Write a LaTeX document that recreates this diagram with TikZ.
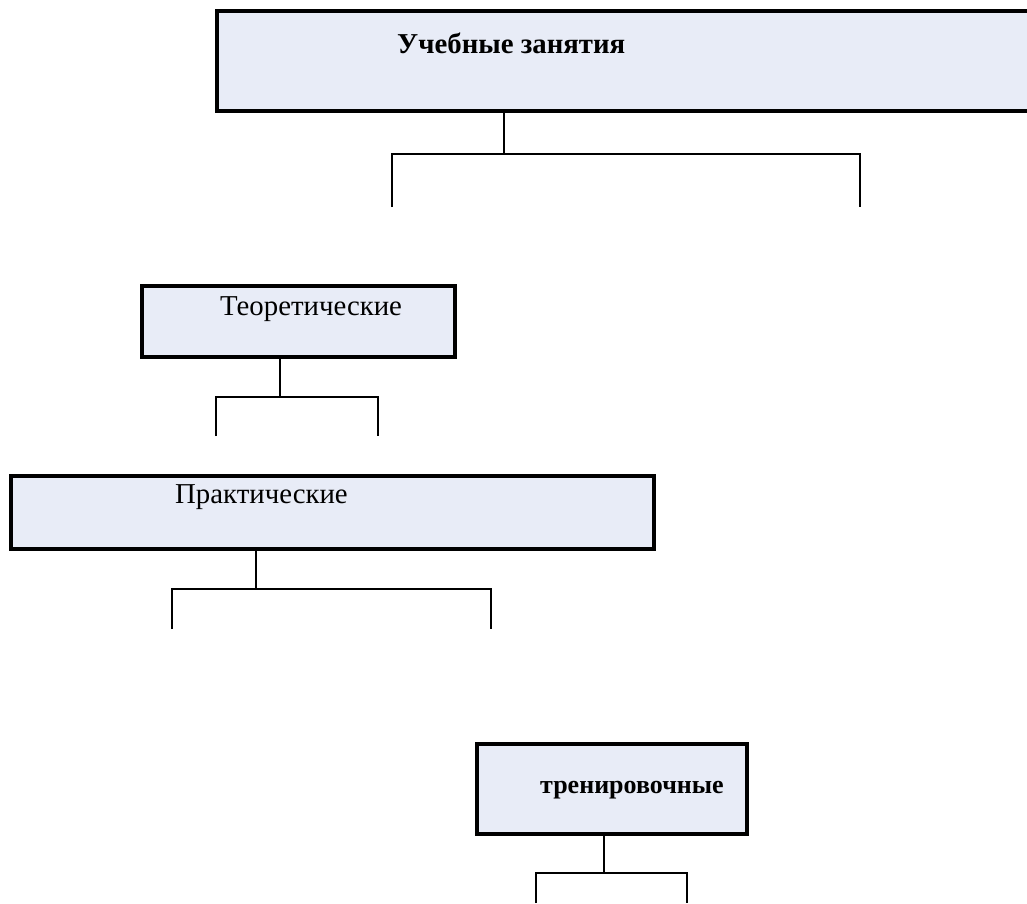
\documentclass[tikz,border=0pt]{standalone}
\usepackage{fontspec}
\setmainfont{Liberation Serif}
\usetikzlibrary{positioning}
\definecolor{boxfill}{HTML}{E8ECF7}

\tikzset{
  box/.style={draw,line width=3.5pt,fill=boxfill,rectangle,inner sep=0pt},
  lbl/.style={anchor=base west,inner sep=0pt,font=\fontsize{28.8}{34}\selectfont},
  conn/.style={line width=2pt}
}

\begin{document}
\begin{tikzpicture}[x=1pt,y=-1pt]
 \useasboundingbox (0,0) rectangle (1027,903);
 % boxes
 \node[box,minimum width=818pt,minimum height=100pt] (ucheb) at (626,61) {};
 \node[box,minimum width=313pt,minimum height=71pt] (teor) at (298.5,321.5) {};
 \node[box,minimum width=643pt,minimum height=73pt] (prakt) at (332.5,512.5) {};
 \node[box,minimum width=270pt,minimum height=90pt] (trenir) at (612,789) {};
 % texts
 \node[lbl] (ucheb-t) at (397,53) {\bfseries Учебные занятия};
 \node[lbl] (teor-t) at (220,315) {Теоретические};
 \node[lbl] (prakt-t) at (175,503) {Практические};
 \node[lbl,font=\fontsize{26}{31}\selectfont] (trenir-t) at (540,793) {\bfseries тренировочные};
 % forks
 \coordinate (f1) at (504,154);
 \coordinate (f1l) at (392,207);
 \coordinate (f1r) at (860,207);
 \coordinate (f2) at (280,397);
 \coordinate (f2l) at (216,436);
 \coordinate (f2r) at (378,436);
 \coordinate (f3) at (256,589);
 \coordinate (f3l) at (172,629);
 \coordinate (f3r) at (491,629);
 \coordinate (f4) at (604,873);
 \coordinate (f4l) at (536,903);
 \coordinate (f4r) at (687,903);
 % connectors
 \draw[conn] (ucheb.south -| f1) -- (f1);
 \draw[conn] (f1l) |- (f1) -| (f1r);
 \draw[conn] (teor.south -| f2) -- (f2);
 \draw[conn] (f2l) |- (f2) -| (f2r);
 \draw[conn] (prakt.south -| f3) -- (f3);
 \draw[conn] (f3l) |- (f3) -| (f3r);
 \draw[conn] (trenir.south -| f4) -- (f4);
 \draw[conn] (f4l) |- (f4) -| (f4r);
\end{tikzpicture}
\end{document}
